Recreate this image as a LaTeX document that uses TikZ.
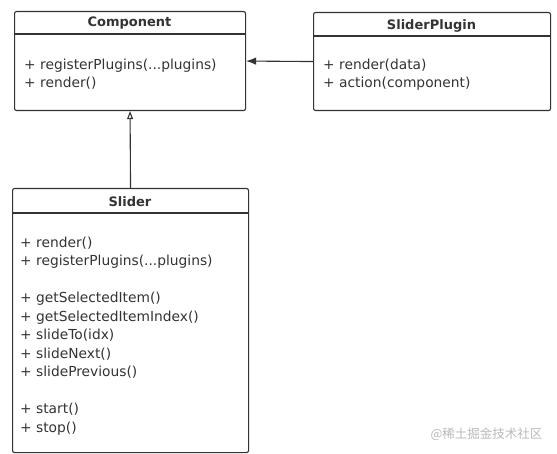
\documentclass[tikz,border=0pt]{standalone}
\usepackage{fontspec}
\setmainfont{DejaVu Sans}
\newfontfamily\cjkfont{Noto Sans CJK SC}
\usetikzlibrary{arrows.meta, positioning}
\definecolor{umlline}{RGB}{51,51,51}
\tikzset{
  classbox/.style={draw=umlline, line width=1.1pt, rounded corners=2pt, anchor=north west, inner sep=0pt},
  classname/.style={font=\fontsize{13}{15}\selectfont\bfseries, text=umlline},
  members/.style={align=left, anchor=north west, inner sep=0pt, text=umlline,
        font=\fontsize{13.8}{18.5}\selectfont},
}

\begin{document}
\begin{tikzpicture}[x=1pt, y=-1pt]
  \useasboundingbox (0,0) rectangle (557,454);
  % classes
  \node[classbox, minimum width=231pt, minimum height=99pt] (comp) at (14,11) {};
  \node[classbox, minimum width=237pt, minimum height=98pt] (plugin) at (313,12) {};
  \node[classbox, minimum width=236pt, minimum height=264pt] (slider) at (12,188) {};

  \node[classname] (compname) at (129.5,23.5) {Component};
  \node[classname] (pluginname) at (431.5,25.5) {SliderPlugin};
  \node[classname] (slidername) at (130,202) {Slider};

  \draw[umlline, line width=1.1pt] ([yshift=-23pt]comp.north west) -- ([yshift=-23pt]comp.north east);
  \draw[umlline, line width=1.1pt] ([yshift=-24pt]plugin.north west) -- ([yshift=-24pt]plugin.north east);
  \draw[umlline, line width=1.1pt] ([yshift=-25pt]slider.north west) -- ([yshift=-25pt]slider.north east);

  \node[members] (compops) at (24,58.5) {+ registerPlugins(...plugins)\\+ render()};
  \node[members] (pluginops) at (323,58.5) {+ render(data)\\+ action(component)};
  \node[members] (sliderops) at (20,236.5) {+ render()\\+ registerPlugins(...plugins)\\[18.5pt]
    + getSelectedItem()\\+ getSelectedItemIndex()\\+ slideTo(idx)\\+ slideNext()\\+ slidePrevious()\\[18.5pt]
    + start()\\+ stop()};

  % relations
  \draw[umlline, line width=1.1pt, -{Latex[length=10pt, width=7.5pt]}] (plugin.west) -- (comp.east);
  \draw[umlline, line width=1.1pt, -{Triangle[open, length=8pt, width=6pt]}] (slider.north) -- (comp.south);

  \node[text=gray!55, font=\cjkfont\fontsize{12.5}{14}\selectfont, anchor=east] (mark) at (546,434) {@稀土掘金技术社区};
\end{tikzpicture}
\end{document}
